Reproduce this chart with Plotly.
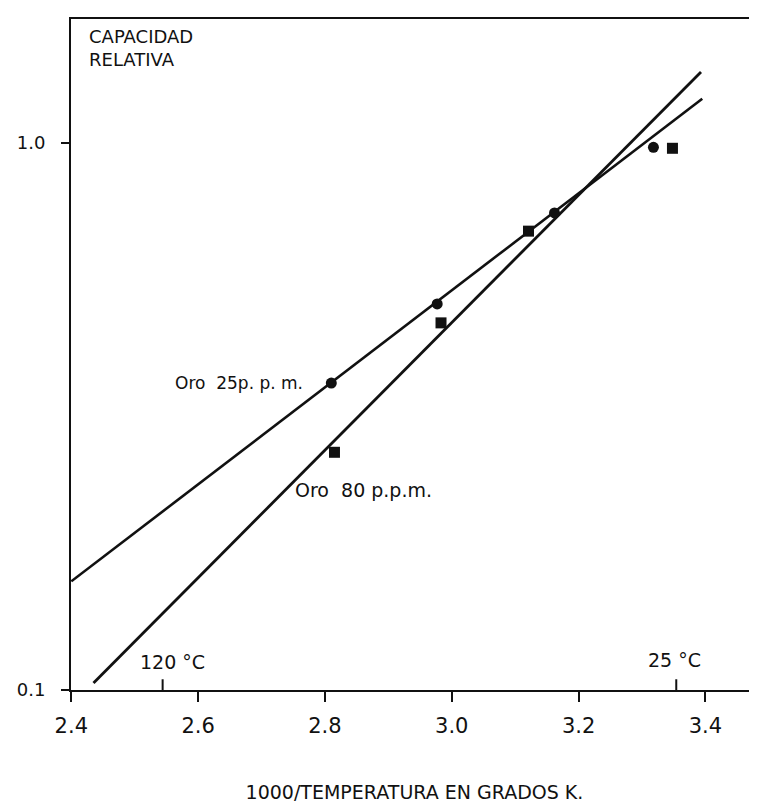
import math
import plotly.graph_objects as go

# Data
x_oro25 = [2.810, 2.977, 3.162, 3.318]
y_oro25 = [0.364, 0.508, 0.745, 0.982]
x_oro80 = [2.815, 2.983, 3.121, 3.348]
y_oro80 = [0.272, 0.469, 0.690, 0.978]

# fitted lines (end points as drawn)
line25_x = [2.40, 3.395]
line25_y = [0.158, 1.205]
line80_x = [2.435, 3.393]
line80_y = [0.103, 1.349]

x_ticks = [2.4, 2.6, 2.8, 3.0, 3.2, 3.4]
x_ticktext = ["2.4", "2.6", "2.8", "3.0", "3.2", "3.4"]
y_ticks = [0.1, 1.0]
y_ticktext = ["0.1", "1.0"]

temp_marks_x = [2.544, 3.354]
temp_marks_text = ["120 °C", "25 °C"]

label25_pos = (2.560, 0.364)
label80_pos = (2.749, 0.232)

INK = "#111111"
FONT = "DejaVu Sans"

fig = go.Figure()
fig.add_trace(go.Scatter(x=line25_x, y=line25_y, mode="lines",
                         line=dict(color=INK, width=2.6), showlegend=False, hoverinfo="skip"))
fig.add_trace(go.Scatter(x=line80_x, y=line80_y, mode="lines",
                         line=dict(color=INK, width=2.8), showlegend=False, hoverinfo="skip"))
fig.add_trace(go.Scatter(x=x_oro25, y=y_oro25, mode="markers",
                         marker=dict(symbol="circle", size=11, color=INK), name="Oro 25 p.p.m.",
                         showlegend=False))
fig.add_trace(go.Scatter(x=x_oro80, y=y_oro80, mode="markers",
                         marker=dict(symbol="square", size=11, color=INK), name="Oro 80 p.p.m.",
                         showlegend=False))

# small temperature ticks pointing up from the x axis
for xv in temp_marks_x:
    fig.add_shape(type="line", xref="x", yref="paper", x0=xv, x1=xv, y0=0, y1=0.016,
                  line=dict(color=INK, width=2))

fig.add_annotation(x=temp_marks_x[0], y=0.022, xref="x", yref="paper", text=temp_marks_text[0],
                   showarrow=False, xanchor="center", yanchor="bottom",
                   font=dict(family=FONT, size=19, color=INK), xshift=10)
fig.add_annotation(x=temp_marks_x[1], y=0.026, xref="x", yref="paper", text=temp_marks_text[1],
                   showarrow=False, xanchor="center", yanchor="bottom",
                   font=dict(family=FONT, size=19, color=INK), xshift=-2)

fig.add_annotation(x=0.024, y=0.992, xref="paper", yref="paper",
                   text="CAPACIDAD<br>RELATIVA", showarrow=False, align="left",
                   xanchor="left", yanchor="top",
                   font=dict(family=FONT, size=18, color=INK))

fig.add_annotation(x=label25_pos[0], y=math.log10(label25_pos[1]), xref="x", yref="y",
                   text="Oro  25p. p. m.",
                   showarrow=False, xanchor="left", yanchor="middle",
                   font=dict(family=FONT, size=17, color=INK))
fig.add_annotation(x=label80_pos[0], y=math.log10(label80_pos[1]), xref="x", yref="y",
                   text="Oro  80 p.p.m.",
                   showarrow=False, xanchor="left", yanchor="middle",
                   font=dict(family=FONT, size=19, color=INK))

fig.update_layout(
    width=757, height=809,
    margin=dict(l=63, r=5, t=11, b=127),
    paper_bgcolor="white", plot_bgcolor="white",
    font=dict(family=FONT, color=INK),
)
fig.update_xaxes(
    range=[2.3995, 3.4829], tickvals=x_ticks, ticktext=x_ticktext,
    ticks="outside", ticklen=10, tickwidth=2, tickcolor=INK,
    ticklabelstandoff=6,
    showline=True, linecolor=INK, linewidth=2, mirror=True,
    showgrid=False, zeroline=False,
    tickfont=dict(family=FONT, size=21, color=INK),
    title=dict(text="1000/TEMPERATURA EN GRADOS K.", font=dict(family=FONT, size=19, color=INK),
               standoff=48),
)
fig.update_yaxes(
    type="log", range=[-1, 0.2267], tickvals=y_ticks, ticktext=y_ticktext,
    ticks="outside", ticklen=8, tickwidth=2, tickcolor=INK,
    ticklabelstandoff=12,
    showline=True, linecolor=INK, linewidth=2, mirror=True,
    showgrid=False, zeroline=False,
    tickfont=dict(family=FONT, size=18, color=INK),
)

fig.write_html("out.html")
